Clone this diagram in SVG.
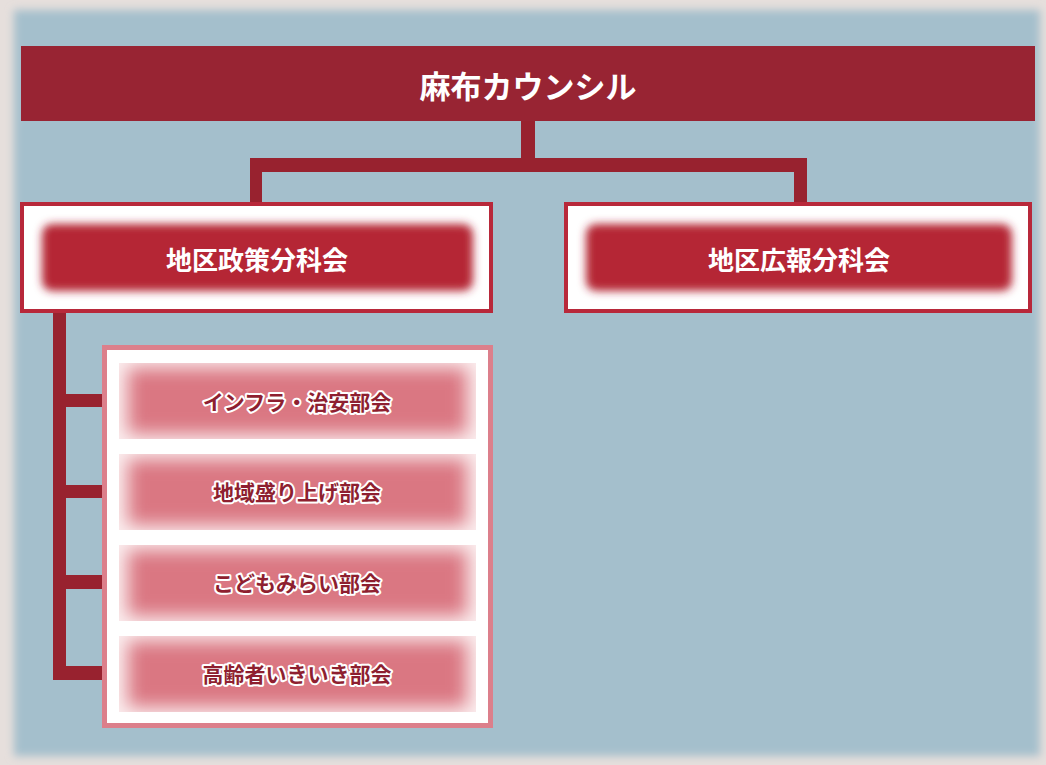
<svg xmlns="http://www.w3.org/2000/svg" width="1046" height="765" viewBox="0 0 1046 765">
  <defs>
    <filter id="bgblur" x="-5%" y="-5%" width="110%" height="110%"><feGaussianBlur stdDeviation="4"/></filter>
    <filter id="redblur" x="-10%" y="-30%" width="120%" height="160%"><feGaussianBlur stdDeviation="4.5"/></filter>
    <filter id="pinkblur" x="-20%" y="-60%" width="140%" height="220%"><feGaussianBlur stdDeviation="9"/></filter>
    <clipPath id="c1"><rect x="119" y="363" width="357" height="76"/></clipPath>
    <clipPath id="c2"><rect x="119" y="454" width="357" height="76"/></clipPath>
    <clipPath id="c3"><rect x="119" y="545" width="357" height="76"/></clipPath>
    <clipPath id="c4"><rect x="119" y="636" width="357" height="76"/></clipPath>
  </defs>
  <style>
    .conn { fill: #98222f; }
    .title { font-family: "Noto Sans CJK JP", "Noto Sans", sans-serif; font-weight: bold; fill: #ffffff; text-anchor: middle; dominant-baseline: central; }
    .l2box { fill: #ffffff; stroke: #b8283a; stroke-width: 4; }
    .l2fill { fill: #b52536; }
    .sub { font-family: "Noto Sans CJK JP", "Noto Sans", sans-serif; font-weight: bold; font-size: 21px; fill: #8e1f30; stroke: #ffffff; stroke-width: 4; stroke-linejoin: round; paint-order: stroke; text-anchor: middle; dominant-baseline: central; }
    .subbase { fill: #fbeeef; }
    .subfill { fill: #da7782; }
  </style>

  <!-- background -->
  <rect x="0" y="0" width="1046" height="765" fill="#e6dfdc"/>
  <rect x="14" y="10" width="1026" height="746" fill="#a4bfcc" filter="url(#bgblur)"/>

  <!-- connectors -->
  <g id="connectors">
    <rect class="conn" x="521" y="121" width="14" height="40"/>
    <rect class="conn" x="250" y="158" width="557" height="14"/>
    <rect class="conn" x="250" y="158" width="12" height="46"/>
    <rect class="conn" x="794" y="158" width="13" height="46"/>
    <rect class="conn" x="53" y="313" width="13" height="367"/>
    <rect class="conn" x="53" y="394" width="50" height="13"/>
    <rect class="conn" x="53" y="485" width="50" height="13"/>
    <rect class="conn" x="53" y="575" width="50" height="14"/>
    <rect class="conn" x="53" y="666" width="50" height="14"/>
  </g>

  <!-- top -->
  <g id="node-council">
    <rect x="21" y="46" width="1014" height="75" fill="#982433"/>
    <text class="title" x="528" y="84" font-size="31">麻布カウンシル</text>
  </g>

  <!-- level 2 -->
  <g id="node-policy">
    <rect class="l2box" x="22" y="204" width="469" height="107"/>
    <rect class="l2fill" x="42" y="224" width="431" height="67" rx="10" filter="url(#redblur)"/>
    <text class="title" x="257" y="258" font-size="26">地区政策分科会</text>
  </g>
  <g id="node-pr">
    <rect class="l2box" x="566" y="204" width="464" height="107"/>
    <rect class="l2fill" x="586" y="224" width="426" height="67" rx="10" filter="url(#redblur)"/>
    <text class="title" x="799" y="258" font-size="26">地区広報分科会</text>
  </g>

  <!-- sub container -->
  <g id="node-subgroup">
    <rect x="104.5" y="347.5" width="386" height="378" fill="#ffffff" stroke="#dc7f8b" stroke-width="5"/>
  </g>

  <g id="node-infra">
    <g clip-path="url(#c1)">
      <rect class="subbase" x="119" y="363" width="357" height="76"/>
      <rect class="subfill" x="128" y="368" width="339" height="66" filter="url(#pinkblur)"/>
    </g>
    <text class="sub" x="297" y="401">インフラ・治安部会</text>
  </g>
  <g id="node-region">
    <g clip-path="url(#c2)">
      <rect class="subbase" x="119" y="454" width="357" height="76"/>
      <rect class="subfill" x="128" y="459" width="339" height="66" filter="url(#pinkblur)"/>
    </g>
    <text class="sub" x="297" y="491">地域盛り上げ部会</text>
  </g>
  <g id="node-kids">
    <g clip-path="url(#c3)">
      <rect class="subbase" x="119" y="545" width="357" height="76"/>
      <rect class="subfill" x="128" y="550" width="339" height="66" filter="url(#pinkblur)"/>
    </g>
    <text class="sub" x="297" y="582">こどもみらい部会</text>
  </g>
  <g id="node-elderly">
    <g clip-path="url(#c4)">
      <rect class="subbase" x="119" y="636" width="357" height="76"/>
      <rect class="subfill" x="128" y="641" width="339" height="66" filter="url(#pinkblur)"/>
    </g>
    <text class="sub" x="297" y="673">高齢者いきいき部会</text>
  </g>
</svg>
